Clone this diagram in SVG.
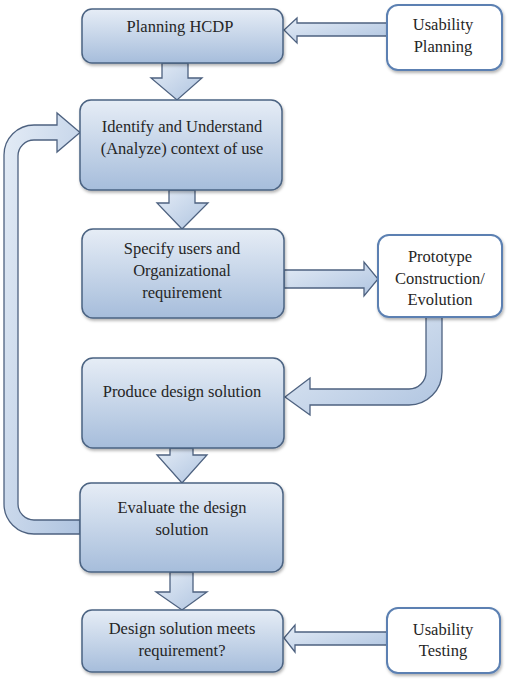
<svg xmlns="http://www.w3.org/2000/svg" width="508" height="684" viewBox="0 0 508 684">
<defs>
<linearGradient id="boxg" x1="0" y1="0" x2="0" y2="1">
<stop offset="0" stop-color="#e6edf6"/>
<stop offset="1" stop-color="#a6bddb"/>
</linearGradient>
<linearGradient id="arrg" x1="0" y1="0" x2="1" y2="1">
<stop offset="0" stop-color="#e4ecf6"/>
<stop offset="1" stop-color="#afc4e0"/>
</linearGradient>
<filter id="sh" x="-10%" y="-10%" width="125%" height="130%">
<feDropShadow dx="1" dy="2" stdDeviation="1.5" flood-color="#000" flood-opacity="0.3"/>
</filter>
<style>
.box{fill:url(#boxg);stroke:#4b6382;stroke-width:1.5;filter:url(#sh)}
.wbox{fill:#ffffff;stroke:#5b80b2;stroke-width:2;filter:url(#sh)}
.arr{fill:url(#arrg);stroke:#4e6280;stroke-width:1.3;stroke-linejoin:miter}
.t{font-family:'Liberation Serif','Times New Roman',Tinos,'Noto Serif','DejaVu Serif',serif;font-size:16.5px;fill:#262626;text-anchor:middle}
</style>
</defs>
<rect width="508" height="684" fill="#ffffff"/>
<g id="connectors">
<polygon class="arr" points="387,23 297,23 297,18 284,30 297,43 297,36 387,36"/>
<polygon class="arr" points="162,63 188,63 188,78 202,78 177,100 151,78 162,78"/>
<polygon class="arr" points="169,190 195,190 195,203 208,203 182,229 157,203 169,203"/>
<polygon class="arr" points="284,270 364,270 364,262 378,279 364,296 364,288 284,288"/>
<path class="arr" d="M442,317 V372 A33,33 0 0 1 409,405 H310 V415 L285,397 L310,378 V389 H409 A17,17 0 0 0 426,372 V317 Z"/>
<polygon class="arr" points="170,448 193,448 193,455 207,455 182,483 157,455 170,455"/>
<polygon class="arr" points="170,572 193,572 193,592 207,592 182,610 156,592 170,592"/>
<polygon class="arr" points="387,632 295,632 295,625 284,638 295,652 295,645 387,645"/>
<path class="arr" d="M80,534 H34 A30,30 0 0 1 4,504 V155 A30,30 0 0 1 34,125 H57 V113 L80,132.5 L57,152 V140 H34 A16,16 0 0 0 18,156 V504 A16,16 0 0 0 34,520 H80 Z"/>
</g>
<g id="planning-hcdp">
<rect class="box" x="82" y="9" width="201" height="54" rx="10"/>
<text class="t" x="180" y="32">Planning HCDP</text>
</g>
<g id="usability-planning">
<rect class="wbox" x="387" y="5" width="115" height="65" rx="11"/>
<text class="t" x="443" y="30">Usability</text>
<text class="t" x="443" y="52">Planning</text>
</g>
<g id="identify-context">
<rect class="box" x="80" y="100" width="202" height="90" rx="11"/>
<text class="t" x="182" y="132">Identify and Understand</text>
<text class="t" x="182" y="154">(Analyze) context of use</text>
</g>
<g id="specify-users">
<rect class="box" x="82" y="229" width="202" height="89" rx="11"/>
<text class="t" x="182" y="254">Specify users and</text>
<text class="t" x="182" y="276">Organizational</text>
<text class="t" x="182" y="298">requirement</text>
</g>
<g id="prototype">
<rect class="wbox" x="378" y="235" width="124" height="82" rx="11"/>
<text class="t" x="440" y="262">Prototype</text>
<text class="t" x="440" y="284">Construction/</text>
<text class="t" x="440" y="305">Evolution</text>
</g>
<g id="produce-design">
<rect class="box" x="82" y="358" width="202" height="90" rx="11"/>
<text class="t" x="182" y="397">Produce design solution</text>
</g>
<g id="evaluate-design">
<rect class="box" x="80" y="483" width="203" height="89" rx="11"/>
<text class="t" x="182" y="513">Evaluate the design</text>
<text class="t" x="182" y="535">solution</text>
</g>
<g id="meets-requirement">
<rect class="box" x="82" y="610" width="201" height="62" rx="10"/>
<text class="t" x="182" y="634">Design solution meets</text>
<text class="t" x="182" y="656">requirement?</text>
</g>
<g id="usability-testing">
<rect class="wbox" x="387" y="608" width="113" height="65" rx="11"/>
<text class="t" x="443" y="635">Usability</text>
<text class="t" x="443" y="656">Testing</text>
</g>
</svg>
